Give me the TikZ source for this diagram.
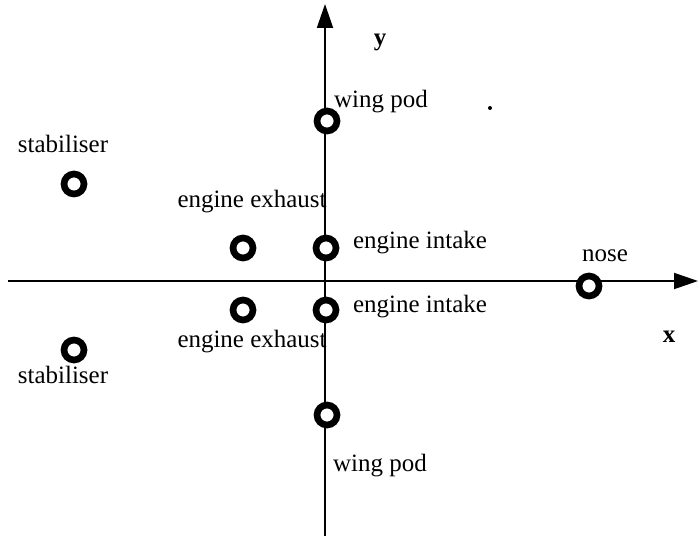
\documentclass[tikz,border=0pt]{standalone}
\usepackage{fontspec}
\setmainfont{Liberation Serif}
\usetikzlibrary{arrows.meta}
\tikzstyle{marker} = [circle,
minimum size=0.6cm,
inner sep=0pt,
line width=0.2cm,
draw=black, fill=white]
\tikzstyle{lbl} = [anchor=base, inner sep=0pt,
font=\fontsize{21.3}{25}\selectfont]
\tikzstyle{axislbl} = [anchor=base, inner sep=0pt,
font=\fontsize{21.3}{25}\selectfont\bfseries]
\tikzstyle{axis} = [line width=1.6pt,-{Triangle[length=0.72cm,width=0.48cm]}]

\begin{document}
\begin{tikzpicture}[x=0.03cm, y=-0.03cm]
\useasboundingbox (0,0) rectangle (699,539);

\coordinate (xstart) at (8,281);
\coordinate (xend) at (698,281);
\coordinate (ystart) at (325,536);
\coordinate (yend) at (325,4);

\draw [axis] (xstart) -- (xend);
\draw [axis] (ystart) -- (yend);

\node (ylbl) [axislbl] at (380,46) {y};
\node (xlbl) [axislbl] at (669,342) {x};

% markers
\node (podtop) [marker] at (327,121) {};
\node (stabtop) [marker] at (74,184) {};
\node (exhtop) [marker] at (243,248) {};
\node (inttop) [marker] at (326,248) {};
\node (nose) [marker] at (589,286) {};
\node (exhbot) [marker] at (243,310) {};
\node (intbot) [marker] at (326,310) {};
\node (stabbot) [marker] at (74,350) {};
\node (podbot) [marker] at (327,415) {};

% labels
\node (podtoplbl) [lbl] at (381,108) {wing pod};
\node (stabtoplbl) [lbl] at (63,153) {stabiliser};
\node (exhtoplbl) [lbl] at (252,208) {engine exhaust};
\node (inttoplbl) [lbl] at (420,249) {engine intake};
\node (noselbl) [lbl] at (605,262) {nose};
\node (intbotlbl) [lbl] at (420,312) {engine intake};
\node (exhbotlbl) [lbl] at (252,347) {engine exhaust};
\node (stabbotlbl) [lbl] at (63,383) {stabiliser};
\node (podbotlbl) [lbl] at (380,471) {wing pod};

\coordinate (speck) at (490,108);
\fill (speck) circle (2);

\end{tikzpicture}
\end{document}
